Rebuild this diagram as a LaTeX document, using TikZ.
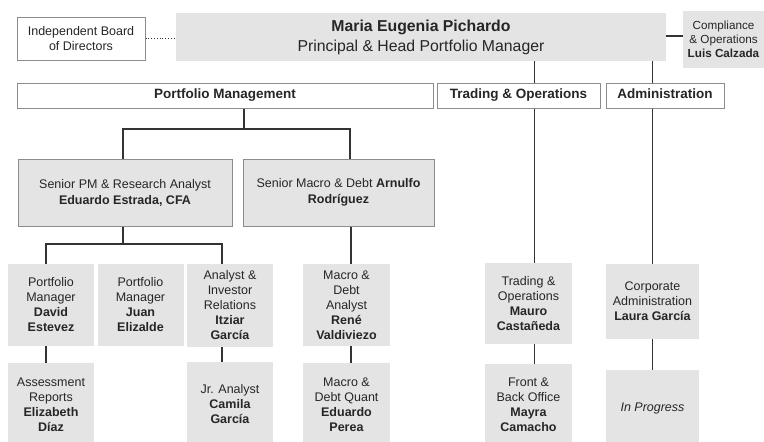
\documentclass[tikz,border=0pt]{standalone}
\usepackage{fontspec}
\setmainfont{Liberation Sans}
\definecolor{boxgray}{HTML}{E4E4E4}
\definecolor{bordergray}{HTML}{8C8C8C}
\definecolor{linegray}{HTML}{333333}
\definecolor{txt}{HTML}{262626}
\newcommand\fzMain{\fontsize{15.8}{20}\selectfont}
\newcommand\fzDiv{\fontsize{13.5}{16}\selectfont}
\newcommand\fzSen{\fontsize{12.5}{16}\selectfont}
\newcommand\fzLev{\fontsize{12.5}{15}\selectfont}
\newcommand\fzSmall{\fontsize{11.7}{14}\selectfont}
\begin{document}
\begin{tikzpicture}[x=1pt,y=-1pt,
  box/.style={rectangle, inner sep=0pt, align=center, text=txt},
  gbox/.style={box, fill=boxgray},
  lbox/.style={gbox, draw=bordergray, line width=1pt},
  wbox/.style={box, fill=white, draw=bordergray, line width=1pt},
  divbox/.style={wbox, font=\fzDiv, minimum height=25pt, text height=9.8pt, text depth=3pt},
  conn/.style={draw=linegray, line width=1.2pt},
  lev/.style={gbox, font=\fzLev, minimum width=86pt}
]
\useasboundingbox (0,0) rectangle (764,442);

% top row
\node[wbox, font=\fzLev, minimum width=128pt, minimum height=43pt] (board) at (81,38.5) {Independent Board\\of Directors};
\node[gbox, font=\fzMain, minimum width=490pt, minimum height=48pt] (main) at (421,37) {\textbf{Maria Eugenia Pichardo}\\Principal \& Head Portfolio Manager};
\node[gbox, font=\fzSmall, minimum width=81pt, minimum height=57pt] (comp) at (723.5,39.5) {Compliance\\\& Operations\\\textbf{Luis Calzada}};

% divisions
\node[divbox, minimum width=416pt] (pm) at (225,95.5) {\textbf{Portfolio Management}};
\node[divbox, minimum width=163pt] (to) at (518.5,95.5) {\textbf{Trading \& Operations}};
\node[divbox, minimum width=118pt] (ad) at (665,95.5) {\textbf{Administration}};

% seniors
\node[lbox, font=\fzSen, minimum width=214pt, minimum height=67pt] (spm) at (125,192.5) {Senior PM \& Research Analyst\\\textbf{Eduardo Estrada, CFA}};
\node[lbox, font=\fzSen, minimum width=191pt, minimum height=67pt] (smd) at (338.5,192.5) {Senior Macro \& Debt \textbf{Arnulfo}\\\textbf{Rodríguez}};

% level 3
\node[lev, minimum height=82pt] (david) at (51,305) {Portfolio\\Manager\\\textbf{David}\\\textbf{Estevez}};
\node[lev, minimum height=82pt] (juan) at (140.5,305) {Portfolio\\Manager\\\textbf{Juan}\\\textbf{Elizalde}};
\node[lev, minimum height=83pt] (itziar) at (230,305.5) {Analyst \&\\Investor\\Relations\\\textbf{Itziar}\\\textbf{García}};
\node[lev, minimum width=87pt, minimum height=82pt] (rene) at (346.5,305) {Macro \&\\Debt\\Analyst\\\textbf{René}\\\textbf{Valdiviezo}};
\node[lev, minimum width=87pt, minimum height=81pt] (mauro) at (528.5,303.5) {Trading \&\\Operations\\\textbf{Mauro}\\\textbf{Castañeda}};
\node[lev, minimum width=93pt, minimum height=75pt] (laura) at (652.5,301.5) {Corporate\\Administration\\\textbf{Laura García}};

% level 4
\node[lev, minimum height=83pt] (eliz) at (51,404.5) {Assessment\\Reports\\\textbf{Elizabeth}\\\textbf{Díaz}};
\node[lev, minimum height=84pt] (camila) at (230,404) {Jr. Analyst\\\textbf{Camila}\\\textbf{García}};
\node[lev, minimum width=87pt, minimum height=83pt] (perea) at (346.5,404.5) {Macro \&\\Debt Quant\\\textbf{Eduardo}\\\textbf{Perea}};
\node[lev, minimum width=87pt, minimum height=82pt] (mayra) at (528.5,405) {Front \&\\Back Office\\\textbf{Mayra}\\\textbf{Camacho}};
\node[lev, minimum width=93pt, minimum height=76pt] (inprog) at (652.5,408) {\textit{In Progress}};

% connectors
\draw[draw=linegray, line width=0.8pt, dotted] (board.east) -- (board.east -| main.west);
\draw[conn] (main.east |- 0,36) -- (comp.west |- 0,36);

\coordinate (tx) at (534.5,0);
\coordinate (ax) at (652.5,0);
\draw[conn] (tx |- main.south) -- (tx |- to.north);
\draw[conn] (ax |- main.south) -- (ax |- ad.north);
\draw[conn] (tx |- to.south) -- (tx |- mauro.north);
\draw[conn] (ax |- ad.south) -- (ax |- laura.north);
\draw[conn] (tx |- mauro.south) -- (tx |- mayra.north);
\draw[conn] (ax |- laura.south) -- (ax |- inprog.north);

\coordinate (pmj) at (244,129);
\coordinate (j1) at (123,129);
\coordinate (j2) at (350,129);
\draw[conn] (pmj |- pm.south) -- (pmj);
\draw[conn] (j1 |- spm.north) -- (j1) -- (j2) -- (j2 |- smd.north);

\coordinate (sj) at (123,244);
\coordinate (dj) at (46,244);
\coordinate (ij) at (222,244);
\draw[conn] (sj |- spm.south) -- (sj);
\draw[conn] (dj |- david.north) -- (dj) -- (ij) -- (ij |- itziar.north);
\draw[conn] (dj |- david.south) -- (dj |- eliz.north);
\draw[conn] (ij |- itziar.south) -- (ij |- camila.north);

\coordinate (rj) at (351,0);
\draw[conn] (rj |- smd.south) -- (rj |- rene.north);
\draw[conn] (rj |- rene.south) -- (rj |- perea.north);
\end{tikzpicture}
\end{document}
